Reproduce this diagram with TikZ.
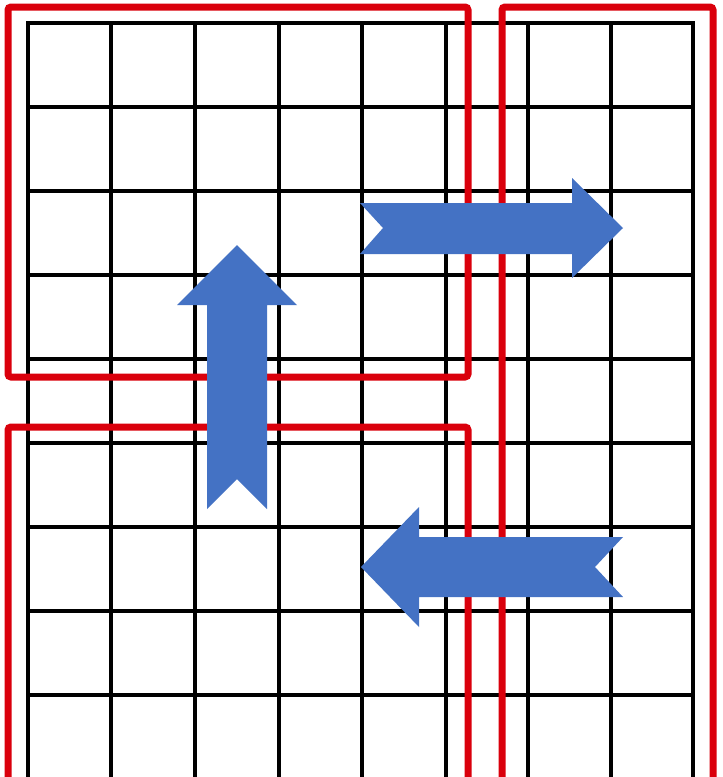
\documentclass[tikz,border=0pt]{standalone}
\definecolor{gridred}{RGB}{218,0,12}
\definecolor{arrowblue}{RGB}{68,114,196}
\tikzset{
  gridline/.style={draw=black,line width=4pt},
  redline/.style={draw=gridred,line width=7pt,rounded corners=3pt},
  bluearrow/.style={fill=arrowblue,draw=none}
}
\begin{document}
\begin{tikzpicture}[x=1pt,y=-1pt]
\useasboundingbox (0,0) rectangle (723,777);
\fill[white] (0,0) rectangle (723,777);
\begin{scope}
\clip (0,0) rectangle (723,777);
% grid
\foreach \x in {111,195,279,362,446,528,611}
  \draw[gridline] (\x,23) -- (\x,790);
\foreach \y in {107,191,275,359,443,527,611,695}
  \draw[gridline] (28,\y) -- (693,\y);
\draw[gridline,line join=miter] (28,790) -- (28,23) -- (693,23) -- (693,790);
% red regions
\draw[redline] (8,7) rectangle (468,377);
\draw[redline] (502,790) -- (502,7) -- (713,7) -- (713,790);
\draw[redline] (8,790) -- (8,427) -- (468,427) -- (468,790);
% arrows
\fill[bluearrow] (237,245) -- (297,305) -- (267,305) -- (267,509) -- (237,479)
  -- (207,509) -- (207,305) -- (177,305) -- cycle;
\fill[bluearrow] (623,228) -- (572,178) -- (572,203) -- (360,203) -- (383,228)
  -- (360,254) -- (572,254) -- (572,278) -- cycle;
\fill[bluearrow] (361,567) -- (419,507) -- (419,537) -- (623,537) -- (595,567)
  -- (623,597) -- (419,597) -- (419,627) -- cycle;
\end{scope}
\end{tikzpicture}
\end{document}
